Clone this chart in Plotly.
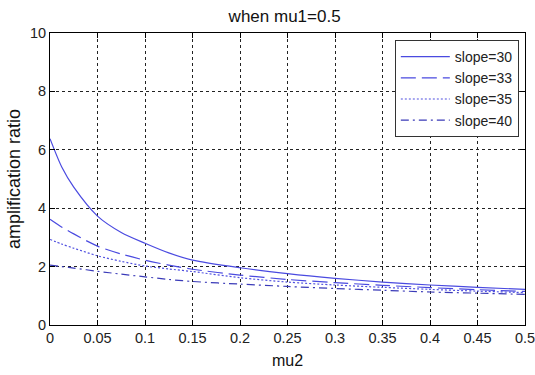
import plotly.graph_objects as go

mu2 = [0, 0.0125, 0.025, 0.05, 0.075, 0.1, 0.125, 0.15, 0.2, 0.25, 0.3, 0.35, 0.4, 0.45, 0.5]
slope30 = [6.38, 5.4, 4.72, 3.73, 3.17, 2.80, 2.47, 2.22, 1.96, 1.76, 1.60, 1.47, 1.37, 1.29, 1.22]
slope33 = [3.62, 3.35, 3.12, 2.70, 2.43, 2.22, 2.05, 1.91, 1.71, 1.56, 1.45, 1.36, 1.28, 1.21, 1.15]
slope35 = [2.93, 2.77, 2.63, 2.37, 2.18, 2.02, 1.92, 1.83, 1.62, 1.47, 1.37, 1.29, 1.22, 1.16, 1.11]
slope40 = [2.05, 2.0, 1.95, 1.84, 1.74, 1.65, 1.56, 1.49, 1.40, 1.32, 1.25, 1.19, 1.13, 1.09, 1.05]

series_names = ["slope=30", "slope=33", "slope=35", "slope=40"]
series_vals = [slope30, slope33, slope35, slope40]
dashes = ["solid", "15px,6px", "2px,2px", "8px,4px,2px,4px"]
colors = ["#4a4ae0", "#4a4ae0", "#5050e0", "#3a3ab8"]

x_tickvals = [0, 0.05, 0.1, 0.15, 0.2, 0.25, 0.3, 0.35, 0.4, 0.45, 0.5]
x_ticktext = ["0", "0.05", "0.1", "0.15", "0.2", "0.25", "0.3", "0.35", "0.4", "0.45", "0.5"]
y_tickvals = [0, 2, 4, 6, 8, 10]

FONT = "Liberation Sans, Arial, sans-serif"

fig = go.Figure()
for name, vals, dash, col in zip(series_names, series_vals, dashes, colors):
    fig.add_trace(go.Scatter(
        x=mu2, y=vals, mode="lines", name=name,
        line=dict(color=col, width=1.2, dash=dash, shape="spline", smoothing=0.8),
    ))

axis_common = dict(
    showline=True, linecolor="black", linewidth=1, mirror="ticks",
    ticks="inside", ticklen=5, tickcolor="black",
    showgrid=True, gridcolor="#222222", gridwidth=1, griddash="dot",
    zeroline=False, automargin=False, ticklabeloverflow="allow",
    tickfont=dict(family=FONT, size=14.5, color="#222"),
)

fig.update_layout(
    width=535, height=375,
    margin=dict(l=50, r=10, t=33, b=50),
    paper_bgcolor="white", plot_bgcolor="white",
    title=dict(text="when mu1=0.5", x=0.532, xanchor="center", y=0.957, yanchor="middle",
               font=dict(family=FONT, size=17, color="#111")),
    xaxis=dict(range=[0, 0.5], tickvals=x_tickvals, ticktext=x_ticktext,
               title=dict(text="mu2", font=dict(family=FONT, size=16, color="#111"), standoff=9),
               **axis_common),
    yaxis=dict(range=[0, 10], tickvals=y_tickvals,
               title=dict(text="amplification ratio", font=dict(family=FONT, size=18, color="#111"), standoff=4),
               **axis_common),
    legend=dict(x=0.987, xanchor="right", y=0.976, yanchor="top",
                bgcolor="white", bordercolor="#333", borderwidth=1, itemwidth=49,
                font=dict(family=FONT, size=14, color="#222")),
    showlegend=True,
)

# Remove the browser's default 8px page margin so the figure sits at the window origin.
fig.write_html("out.html", config={"displayModeBar": False},
               post_script="document.body.style.margin='0';")
